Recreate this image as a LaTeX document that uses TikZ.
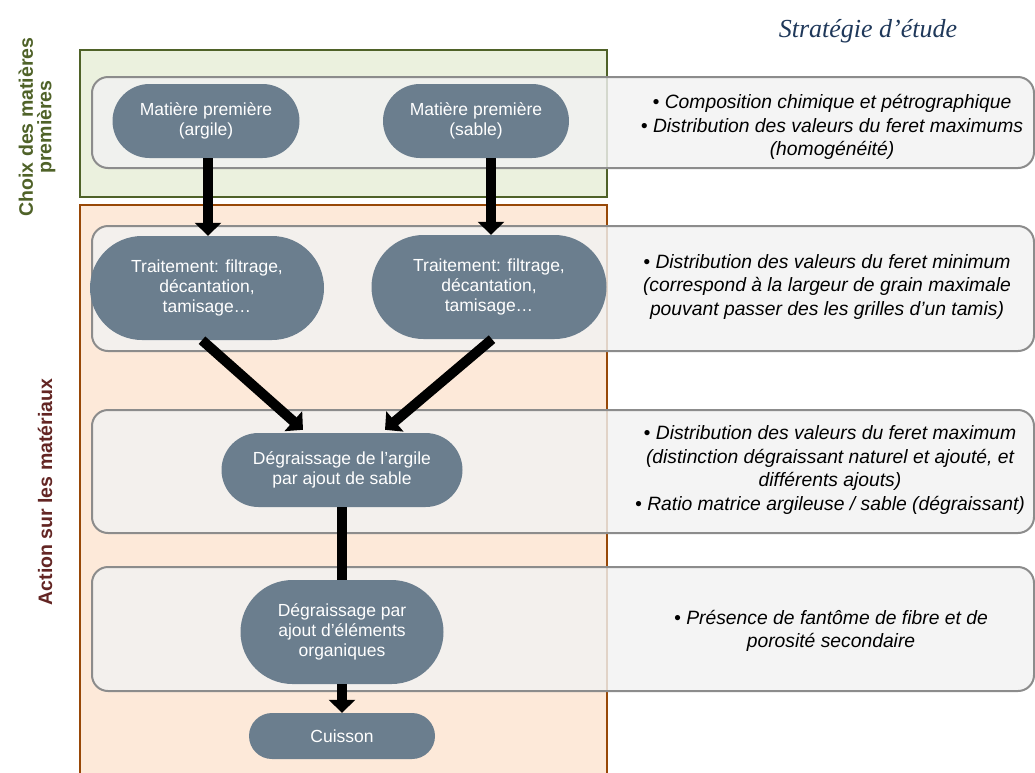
\documentclass[tikz,border=0pt]{standalone}
\usepackage{fontspec}
\setmainfont{Liberation Sans}
\newfontfamily\titleserif{Liberation Serif}
\usetikzlibrary{arrows.meta,calc}
\definecolor{nodefill}{RGB}{107,126,142}
\definecolor{greenfill}{RGB}{235,241,222}
\definecolor{greenline}{RGB}{79,98,40}
\definecolor{peachfill}{RGB}{253,233,217}
\definecolor{brownline}{RGB}{152,72,7}
\definecolor{bandfill}{RGB}{242,242,242}
\definecolor{bandline}{RGB}{140,140,140}
\definecolor{labelred}{RGB}{99,37,35}
\definecolor{titleblue}{RGB}{31,56,90}
\tikzset{
  proc/.style={fill=nodefill, text=white, align=center, inner sep=0pt,
    font=\fontsize{17.5}{20}\selectfont},
  band/.style={fill=bandfill, fill opacity=0.82, draw=bandline, line width=2pt, rounded corners=16pt},
  bandtext/.style={align=center, font=\fontsize{19.3}{23.5}\selectfont\itshape, inner sep=0pt},
  fat/.style={line width=10pt, -{Triangle[width=26pt,length=13pt]}},
  fatline/.style={line width=10pt},
  sidelabel/.style={rotate=90, align=center, font=\fontsize{19.5}{18.5}\selectfont\bfseries, inner sep=0pt}
}
\begin{document}
\begin{tikzpicture}[x=1pt,y=-1pt]
\useasboundingbox (0,0) rectangle (1035,772);
\fill[white] (0,0) rectangle (1035,772);
% phase boxes
\draw[fill=greenfill, draw=greenline, line width=2pt] (80,50) rectangle (607,197);
\filldraw[fill=peachfill, draw=brownline, line width=2pt] (80,773) -- (80,205) -- (607,205) -- (607,773);
% side labels
\node[sidelabel, text=greenline] (lab1) at (37,127) {Choix des matières\\premières};
\node[sidelabel, text=labelred] (lab2) at (45,492) {Action sur les matériaux};
% title
\node[font=\fontsize{26}{30}\selectfont\titleserif\itshape, text=titleblue] (title) at (868,31) {Stratégie d’étude};
% bands
\draw[band] (92,77) rectangle (1034,168);
\draw[band] (92,226) rectangle (1034,351);
\draw[band] (92,410) rectangle (1034,533);
\draw[band] (92,567) rectangle (1034,691);
% band texts
\node[bandtext] (t1) at (832,127) {• Composition chimique et pétrographique\\• Distribution des valeurs du feret maximums\\(homogénéité)};
\node[bandtext] (t2) at (827,287) {• Distribution des valeurs du feret minimum\\(correspond à la largeur de grain maximale\\pouvant passer des les grilles d’un tamis)};
\node[bandtext] (t3) at (830,470) {• Distribution des valeurs du feret maximum\\(distinction dégraissant naturel et ajouté, et\\différents ajouts)\\• Ratio matrice argileuse / sable (dégraissant)};
\node[bandtext] (t4) at (831,631) {• Présence de fantôme de fibre et de\\porosité secondaire};
% process nodes
\node[proc, minimum width=187pt, minimum height=74pt, rounded corners=37pt] (n1) at (206,121) {Matière première\\(argile)};
\node[proc, minimum width=186pt, minimum height=74pt, rounded corners=37pt] (n2) at (476,121) {Matière première\\(sable)};
\node[proc, minimum width=234pt, minimum height=104pt, rounded corners=52pt] (n3) at (207,288) {Traitement: filtrage,\\décantation,\\tamisage…};
\node[proc, minimum width=235pt, minimum height=104pt, rounded corners=52pt] (n4) at (489,287) {Traitement: filtrage,\\décantation,\\tamisage…};
\node[proc, minimum width=241pt, minimum height=74pt, rounded corners=37pt] (n5) at (342,470) {Dégraissage de l’argile\\par ajout de sable};
\node[proc, minimum width=203pt, minimum height=104pt, rounded corners=52pt] (n6) at (342,632) {Dégraissage par\\ajout d’éléments\\organiques};
\node[proc, minimum width=186pt, minimum height=46pt, rounded corners=23pt] (n7) at (342,736) {Cuisson};
% connectors
\draw[fat] (n1.south -| 208,0) -- (208,0 |- n3.north);
\draw[fat] (n2.south -| 491,0) -- (491,0 |- n4.north);
\draw[fat] ($(n3.south)+(-5,0)$) -- ($(n5.north)+(-39,-3)$);
\draw[fat] ($(n4.south)+(3,0)$) -- ($(n5.north)+(43,-3)$);
\draw[fatline] (n5.south) -- (n6.north);
\draw[fat] (n6.south) -- (n7.north);
\end{tikzpicture}
\end{document}
